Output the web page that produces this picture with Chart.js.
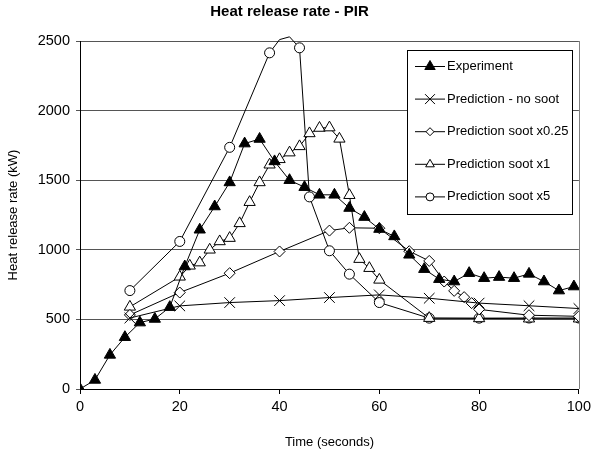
<!DOCTYPE html>
<html>
<head>
<meta charset="utf-8">
<script src="https://cdn.jsdelivr.net/npm/chart.js@4/dist/chart.umd.min.js"></script>
<style>
  html, body { margin: 0; padding: 0; background: #fff; }
  #wrap { width: 595px; height: 459px; }
</style>
</head>
<body>
<div id="wrap"><canvas id="hrr-chart" width="595" height="459"></canvas></div>
<script>
// Experiment (filled triangles)
const expTime = [0, 3, 6, 9, 12, 15, 18, 21, 24, 27, 30, 33, 36, 39, 42, 45, 48, 51, 54, 57, 60,
                 63, 66, 69, 72, 75, 78, 81, 84, 87, 90, 93, 96, 99];
const expHrr = [0, 65, 245, 372, 477, 503, 588, 880, 1144, 1311, 1484, 1763, 1796, 1635, 1500, 1450, 1395, 1395, 1300, 1235, 1149,
                1096, 964, 861, 789, 772, 832, 796, 804, 796, 827, 772, 707, 736];

// Prediction - no soot (crosses)
const noSootTime = [10, 20, 30, 40, 50, 60, 70, 80, 90, 100];
const noSootHrr = [510, 597, 621, 635, 657, 676, 652, 617, 598, 578];

// Prediction soot x0.25 (diamonds)
const soot025Time = [10, 20, 30, 40, 50, 54, 60, 66, 70, 73, 75, 77, 78.5, 80, 90, 100];
const soot025Hrr = [532, 693, 832, 988, 1138, 1158, 1155, 990, 920, 772, 705, 660, 617, 572, 530, 522];

// Prediction soot x1 (open triangles)
const soot1Time = [10, 20, 22, 24, 26, 28, 30, 32, 34, 36, 38, 40, 42, 44, 46, 48, 50, 52, 54, 56, 58, 60, 70, 80, 90, 100];
const soot1Hrr = [590, 806, 885, 908, 1000, 1060, 1084, 1190, 1342, 1484, 1611, 1650, 1698, 1743, 1836, 1875, 1878, 1797, 1392, 933, 868, 784, 509, 507, 505, 505];

// Prediction soot x5 (circles), the 40 and 42 s points carry no marker
const soot5Time = [10, 20, 30, 38, 40, 42, 44, 46, 50, 54, 60, 70, 80, 90, 100];
const soot5Hrr = [707, 1060, 1736, 2415, 2510, 2530, 2451, 1380, 993, 825, 621, 509, 509, 510, 510];
const soot5NoMarker = [40, 42];

const yTicks = [0, 500, 1000, 1500, 2000, 2500];
const xTicks = [0, 20, 40, 60, 80, 100];

const seriesNames = ['Experiment', 'Prediction - no soot', 'Prediction soot x0.25', 'Prediction soot x1', 'Prediction soot x5'];

const FONT = "'Liberation Sans', Arial, sans-serif";

function pts(xs, ys) {
  return xs.map((x, i) => ({ x: x, y: ys[i] }));
}

// little marker painter for the legend box
function drawMarker(ctx, style, r, fill, x, y) {
  ctx.save();
  ctx.beginPath();
  ctx.lineWidth = 1;
  ctx.strokeStyle = '#000';
  ctx.fillStyle = fill;
  if (style === 'triangle') {
    let a = 0;
    ctx.moveTo(x + Math.sin(a) * r, y - Math.cos(a) * r);
    a += 2 * Math.PI / 3;
    ctx.lineTo(x + Math.sin(a) * r, y - Math.cos(a) * r);
    a += 2 * Math.PI / 3;
    ctx.lineTo(x + Math.sin(a) * r, y - Math.cos(a) * r);
    ctx.closePath();
    ctx.fill(); ctx.stroke();
  } else if (style === 'circle') {
    ctx.arc(x, y, r, 0, Math.PI * 2);
    ctx.fill(); ctx.stroke();
  } else if (style === 'rectRot') {
    ctx.moveTo(x - r, y); ctx.lineTo(x, y - r); ctx.lineTo(x + r, y); ctx.lineTo(x, y + r);
    ctx.closePath();
    ctx.fill(); ctx.stroke();
  } else if (style === 'crossRot') {
    const d = r * Math.SQRT1_2;
    ctx.moveTo(x - d, y - d); ctx.lineTo(x + d, y + d);
    ctx.moveTo(x - d, y + d); ctx.lineTo(x + d, y - d);
    ctx.stroke();
  }
  ctx.restore();
}

const boxLegend = {
  id: 'boxLegend',
  afterDraw(chart) {
    const ctx = chart.ctx;
    const left = 407.5, top = 50.5, w = 165, h = 164;
    ctx.save();
    ctx.fillStyle = '#fff';
    ctx.fillRect(left, top, w, h);
    ctx.strokeStyle = '#000';
    ctx.lineWidth = 1;
    ctx.strokeRect(left, top, w, h);
    ctx.font = '13px ' + FONT;
    ctx.textBaseline = 'middle';
    chart.data.datasets.forEach((ds, i) => {
      const y = 66.5 + i * 32.6;
      ctx.beginPath();
      ctx.strokeStyle = '#000';
      ctx.moveTo(415, y); ctx.lineTo(445, y);
      ctx.stroke();
      drawMarker(ctx, ds.pointStyle, ds.legendRadius, ds.pointBackgroundColor, 430, y);
      ctx.fillStyle = '#000';
      ctx.fillText(ds.label, 447, y);
    });
    ctx.restore();
  }
};

const plotBorder = {
  id: 'plotBorder',
  beforeDatasetsDraw(chart) {
    const a = chart.chartArea;
    const ctx = chart.ctx;
    ctx.save();
    ctx.strokeStyle = '#808080';
    ctx.lineWidth = 1;
    ctx.beginPath();
    ctx.moveTo(Math.round(a.right) + 0.5, a.top);
    ctx.lineTo(Math.round(a.right) + 0.5, a.bottom);
    ctx.stroke();
    ctx.restore();
  }
};

const chartCanvas = document.querySelector('#hrr-chart');

const hrrChart = new Chart(chartCanvas, {
  type: 'line',
  data: {
    datasets: [
      {
        label: seriesNames[0],
        data: pts(expTime, expHrr),
        borderColor: '#000', borderWidth: 1,
        pointStyle: 'triangle', pointRadius: 6.5, legendRadius: 6,
        pointBackgroundColor: '#000', pointBorderColor: '#000', pointBorderWidth: 1
      },
      {
        label: seriesNames[1],
        data: pts(noSootTime, noSootHrr),
        borderColor: '#000', borderWidth: 1,
        pointStyle: 'crossRot', pointRadius: 7.5, legendRadius: 7,
        pointBackgroundColor: '#fff', pointBorderColor: '#000', pointBorderWidth: 1
      },
      {
        label: seriesNames[2],
        data: pts(soot025Time, soot025Hrr),
        borderColor: '#000', borderWidth: 1,
        pointStyle: 'rectRot', pointRadius: 5.5, legendRadius: 4,
        pointBackgroundColor: '#fff', pointBorderColor: '#000', pointBorderWidth: 1
      },
      {
        label: seriesNames[3],
        data: pts(soot1Time, soot1Hrr),
        borderColor: '#000', borderWidth: 1,
        pointStyle: 'triangle', pointRadius: 6.5, legendRadius: 5,
        pointBackgroundColor: '#fff', pointBorderColor: '#000', pointBorderWidth: 1
      },
      {
        label: seriesNames[4],
        data: pts(soot5Time, soot5Hrr),
        borderColor: '#000', borderWidth: 1,
        clip: { left: 5, top: 20, right: 0, bottom: 5 },
        pointStyle: 'circle',
        pointRadius: soot5Time.map(t => soot5NoMarker.includes(t) ? 0 : 5),
        legendRadius: 4,
        pointBackgroundColor: '#fff', pointBorderColor: '#000', pointBorderWidth: 1
      }
    ]
  },
  options: {
    responsive: false,
    animation: false,
    layout: { padding: { left: 0, right: 16, top: 0, bottom: 0 } },
    elements: { line: { tension: 0 } },
    plugins: {
      legend: { display: false },
      tooltip: { enabled: false },
      title: {
        display: true,
        text: 'Heat release rate - PIR',
        color: '#000',
        font: { family: FONT, size: 15, weight: 'bold' },
        padding: { top: 3, bottom: 20 }
      }
    },
    scales: {
      x: {
        type: 'linear',
        min: 0, max: 100,
        afterFit: s => { s.height = 70; },
        afterBuildTicks: s => { s.ticks = xTicks.map(v => ({ value: v })); },
        grid: { drawOnChartArea: false, drawTicks: true, tickLength: 5, color: '#000' },
        border: { color: '#000' },
        ticks: { color: '#000', font: { family: FONT, size: 14.5 }, padding: 4, maxRotation: 0 },
        title: {
          display: true, text: 'Time (seconds)', color: '#000',
          font: { family: FONT, size: 13 }, padding: { top: 0, bottom: 9 }
        }
      },
      y: {
        min: 0, max: 2500,
        afterFit: s => { s.width = 80; },
        afterBuildTicks: s => { s.ticks = yTicks.map(v => ({ value: v })); },
        grid: { color: '#555', tickLength: 4 },
        border: { color: '#000' },
        ticks: {
          color: '#000', font: { family: FONT, size: 14.5 }, padding: 6,
          callback: function (value) { return String(value); }
        },
        title: {
          display: true, text: 'Heat release rate (kW)', color: '#000',
          font: { family: FONT, size: 13 }, padding: { top: 6, bottom: 0 }
        }
      }
    }
  },
  plugins: [plotBorder, boxLegend]
});
</script>
</body>
</html>
